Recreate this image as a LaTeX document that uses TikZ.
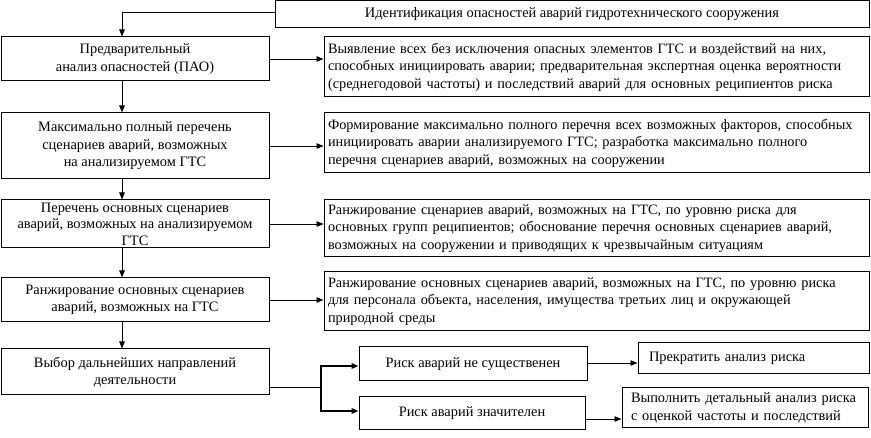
\documentclass[tikz,border=0pt]{standalone}
\usepackage{fontspec}
\setmainfont{Liberation Serif}
\usetikzlibrary{arrows.meta}
\tikzset{
  box/.style={draw=black, line width=1pt, inner ysep=0pt, inner xsep=7pt, font=\fontsize{14.4}{17.5}\selectfont},
  lbox/.style={box, minimum width=268pt, align=center},
  rbox/.style={box, inner xsep=4pt, minimum width=545pt, text width=537pt, align=left, font=\fontsize{14.3}{17.5}\selectfont},
  arr/.style={draw=black, line width=0.9pt, -{Triangle[length=7pt,width=5.5pt]}},
  barr/.style={arr, line width=1.6pt},
}
\begin{document}
\begin{tikzpicture}[x=1pt,y=-1pt]
  \useasboundingbox (0,0) rectangle (871,438);
  \coordinate (spine) at (122,0);
  \coordinate (fork) at (321,388);

  \node[box, minimum width=594pt, minimum height=27pt] (ident) at (572,14)
    {Идентификация опасностей аварий гидротехнического сооружения};

  % left column
  \node[lbox, minimum height=44pt] (pao) at (135,59)
    {Предварительный\\анализ опасностей (ПАО)};
  \node[lbox, minimum height=66pt] (full) at (135,146)
    {Максимально полный перечень\\сценариев аварий, возможных\\на анализируемом ГТС};
  \node[lbox, minimum height=48pt, font=\fontsize{14.4}{16.5}\selectfont] (main) at (135,224)
    {Перечень основных сценариев\\аварий, возможных на анализируемом\\ГТС};
  \node[lbox, minimum height=44pt] (rank) at (135,300)
    {Ранжирование основных сценариев\\аварий, возможных на ГТС};
  \node[lbox, minimum height=46pt] (choice) at (135,372)
    {Выбор дальнейших направлений\\деятельности};

  % right column
  \node[rbox, minimum height=60pt] (d1) at (596.5,67)
    {Выявление всех без исключения опасных элементов ГТС и воздействий на них,\\способных инициировать аварии; предварительная экспертная оценка вероятности\\(среднегодовой частоты) и последствий аварий для основных реципиентов риска};
  \node[rbox, minimum height=60pt] (d2) at (596.5,143)
    {Формирование максимально полного перечня всех возможных факторов, способных\\инициировать аварии анализируемого ГТС; разработка максимально полного\\перечня сценариев аварий, возможных на сооружении};
  \node[rbox, minimum height=57pt] (d3) at (596.5,228.5)
    {Ранжирование сценариев аварий, возможных на ГТС, по уровню риска для\\основных групп реципиентов; обоснование перечня основных сценариев аварий,\\возможных на сооружении и приводящих к чрезвычайным ситуациям};
  \node[rbox, minimum height=59pt] (d4) at (596.5,301.5)
    {Ранжирование основных сценариев аварий, возможных на ГТС, по уровню риска\\для персонала объекта, населения, имущества третьих лиц и окружающей\\природной среды};

  % decision
  \node[box, minimum width=228pt, minimum height=34pt] (low) at (473,364)
    {Риск аварий не существенен};
  \node[box, minimum width=226pt, minimum height=33pt] (high) at (472,413.5)
    {Риск аварий значителен};
  \node[box, inner xsep=11pt, minimum width=231pt, minimum height=31pt, text width=209pt, align=left] (stop) at (753.5,358.5)
    {Прекратить анализ риска};
  \node[box, inner xsep=9pt, minimum width=246pt, minimum height=40pt, text width=228pt, align=left] (detail) at (745,408)
    {Выполнить детальный анализ риска\\с оценкой частоты и последствий};

  \draw[arr] ([yshift=2pt]ident.west) -| (pao.north -| spine);
  \draw[arr] (pao.south -| spine) -- (full.north -| spine);
  \draw[arr] (full.south -| spine) -- (main.north -| spine);
  \draw[arr] (main.south -| spine) -- (rank.north -| spine);
  \draw[arr] (rank.south -| spine) -- (choice.north -| spine);

  \draw[arr] (pao.east) -- (pao.east -| d1.west);
  \draw[arr] (full.east) -- (full.east -| d2.west);
  \draw[arr] (main.east) -- (main.east -| d3.west);
  \draw[arr] (rank.east) -- (rank.east -| d4.west);

  \draw[line width=1pt] (choice.east |- fork) -- (fork);
  \draw[barr] (fork) |- ([yshift=-2pt]low.west);
  \draw[barr] (fork) |- ([yshift=2.5pt]high.west);
  \draw[arr] ([yshift=1pt]low.east) -- ([yshift=1pt]low.east -| stop.west);
  \draw[arr] ([yshift=-5.5pt]high.east) -- ([yshift=-5.5pt]high.east -| detail.west);
\end{tikzpicture}
\end{document}
